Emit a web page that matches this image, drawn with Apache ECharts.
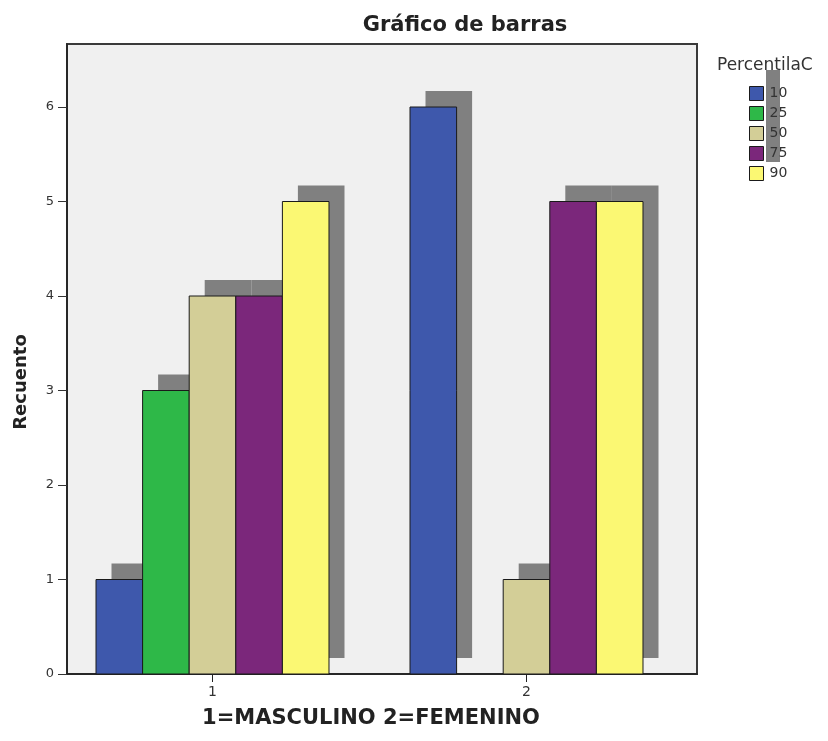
<!DOCTYPE html>
<html>
<head>
<meta charset="utf-8">
<script src="https://cdn.jsdelivr.net/npm/echarts@6/dist/echarts.min.js"></script>
<style>
  html, body { margin: 0; padding: 0; background: #ffffff; }
  #chart { width: 828px; height: 741px; }
</style>
</head>
<body>
<div id="chart"></div>
<script>
// Gender groups on the x axis, percentile groups as clustered bars
const categories = ['1', '2'];
const percentiles = ['10', '25', '50', '75', '90'];

// Counts per percentile group, one value per gender group
const p10 = [1, 6];
const p25 = [3, 0];
const p50 = [4, 1];
const p75 = [4, 5];
const p90 = [5, 5];

const yTicks = [0, 1, 2, 3, 4, 5, 6];

const seriesValues = [p10, p25, p50, p75, p90];
const colors = ['#3e58ac', '#2eb848', '#d3ce97', '#7b277b', '#fbf873'];

const FONT = 'DejaVu Sans';
const BAR_UNITS = 0.1484;          // width of one bar in x-axis units
const SHADOW_DX = 15.5, SHADOW_DY = -16;

function barRect(api, catValue, idx, value, dx, dy) {
  const w = api.size([BAR_UNITS, 0])[0];
  const base = api.coord([catValue + (idx - 2) * BAR_UNITS, 0]);
  const top = api.coord([catValue, value]);
  return {
    x: base[0] - w / 2 + dx,
    y: top[1] + dy,
    width: w,
    height: base[1] - top[1]
  };
}

// Drop shadows behind every bar, drawn as their own series underneath
const shadowData = [];
seriesValues.forEach((vals, i) => {
  vals.forEach((v, c) => { if (v > 0) shadowData.push([c + 1, v, i]); });
});

const series = [{
  type: 'custom',
  name: 'shadow',
  z: 1,
  silent: true,
  data: shadowData,
  renderItem: (params, api) => ({
    type: 'rect',
    shape: barRect(api, api.value(0), api.value(2), api.value(1), SHADOW_DX, SHADOW_DY),
    style: { fill: '#808080' }
  })
}];

percentiles.forEach((p, i) => {
  series.push({
    type: 'custom',
    name: p,
    z: 3,
    color: colors[i],
    data: seriesValues[i].map((v, c) => [c + 1, v]),
    renderItem: (params, api) => {
      const v = api.value(1);
      if (!v) return null;
      return {
        type: 'rect',
        shape: barRect(api, api.value(0), i, v, 0, 0),
        style: { fill: colors[i], stroke: '#1a1a1a', lineWidth: 1 }
      };
    }
  });
});

const chart = echarts.init(document.getElementById('chart'), null, { renderer: 'canvas' });
chart.setOption({
  animation: false,
  backgroundColor: '#ffffff',
  textStyle: { fontFamily: FONT },
  grid: {
    left: 67, right: 131, top: 44, bottom: 67,
    show: true,
    backgroundColor: '#f0f0f0',
    borderColor: '#3a3a3a',
    borderWidth: 2
  },
  xAxis: {
    type: 'value',
    min: 0.53662,
    max: 2.54299,
    splitLine: { show: false },
    axisLine: { show: true, lineStyle: { color: '#222', width: 1.5 } },
    axisTick: { show: true, customValues: [1, 2], length: 8, lineStyle: { color: '#222' } },
    axisLabel: {
      customValues: [1, 2],
      formatter: v => categories[Math.round(v) - 1],
      margin: 11,
      fontSize: 14,
      color: '#333',
      fontFamily: FONT
    }
  },
  yAxis: {
    type: 'value',
    min: 0,
    max: 6.6667,
    splitLine: { show: false },
    axisLine: { show: true, lineStyle: { color: '#222', width: 1.5 } },
    axisTick: { show: true, customValues: yTicks, length: 9, lineStyle: { color: '#333' } },
    axisLabel: {
      customValues: yTicks,
      margin: 13,
      fontSize: 13,
      color: '#333',
      fontFamily: FONT
    }
  },
  legend: {
    orient: 'vertical',
    left: 749,
    top: 86,
    padding: 0,
    itemWidth: 14,
    itemHeight: 14,
    itemGap: 5,
    icon: 'rect',
    data: percentiles,
    itemStyle: { borderColor: '#1a1a1a', borderWidth: 1 },
    textStyle: { fontSize: 14, color: '#333', fontFamily: FONT, lineHeight: 14, padding: [0, 0, 0, 1] },
    selectedMode: false
  },
  graphic: [
    {
      type: 'rect', z: 0,
      shape: { x: 766, y: 70, width: 14, height: 92 },
      style: { fill: '#808080' }
    },
    {
      type: 'text', z: 5,
      style: {
        text: 'PercentilaC', x: 717, y: 66, verticalAlign: 'middle',
        font: '17px "DejaVu Sans"', fill: '#333'
      }
    },
    {
      type: 'text', z: 5,
      style: {
        text: 'Gráfico de barras', x: 465, y: 26, align: 'center', verticalAlign: 'middle',
        font: 'bold 21px "DejaVu Sans"', fill: '#222'
      }
    },
    {
      type: 'text', z: 5,
      style: {
        text: '1=MASCULINO 2=FEMENINO', x: 371, y: 719, align: 'center', verticalAlign: 'middle',
        font: 'bold 21px "DejaVu Sans"', fill: '#222'
      }
    },
    {
      type: 'text', z: 5,
      x: 21, y: 382, rotation: Math.PI / 2,
      style: {
        text: 'Recuento', x: 0, y: 0, align: 'center', verticalAlign: 'middle',
        font: 'bold 18px "DejaVu Sans"', fill: '#222'
      }
    }
  ],
  series: series
});
</script>
</body>
</html>
